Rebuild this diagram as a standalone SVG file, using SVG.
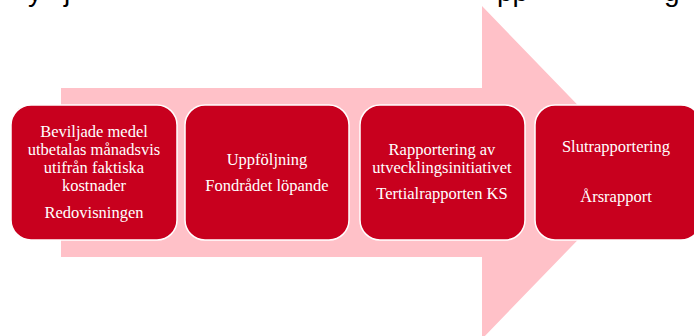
<svg xmlns="http://www.w3.org/2000/svg" width="694" height="336" viewBox="0 0 694 336">
<style>
.box{fill:#C8001E;stroke:#FFFFFF;stroke-width:1.5}
.t{font-family:"Liberation Serif","Times New Roman",serif;font-size:16.5px;fill:#FFFFFF;text-anchor:middle}
.top{font-family:"Liberation Sans",Arial,sans-serif;font-size:28px;fill:#000000}
</style>
<rect width="694" height="336" fill="#FFFFFF"/>
<g id="title-fragment">
<text class="top" x="28" y="1">y</text>
<text class="top" x="64" y="1">j</text>
<text class="top" x="497" y="1">pp</text>
<text class="top" x="664" y="1">g</text>
</g>
<g id="connectors">
<polygon points="61,88 482,88 482,6 643,172.5 482,339 482,257 61,257" fill="#FFC1C8"/>
</g>
<g id="node1">
<rect class="box" x="11" y="105" width="166" height="135" rx="20"/>
<text class="t" x="94" y="137">Beviljade medel</text>
<text class="t" x="94" y="155">utbetalas månadsvis</text>
<text class="t" x="94" y="173">utifrån faktiska</text>
<text class="t" x="94" y="191">kostnader</text>
<text class="t" x="94" y="218">Redovisningen</text>
</g>
<g id="node2">
<rect class="box" x="185" y="105" width="164" height="135" rx="20"/>
<text class="t" x="267" y="165">Uppföljning</text>
<text class="t" x="267" y="191">Fondrådet löpande</text>
</g>
<g id="node3">
<rect class="box" x="360" y="105" width="165" height="135" rx="20"/>
<text class="t" x="442" y="155">Rapportering av</text>
<text class="t" x="442" y="173">utvecklingsinitiativet</text>
<text class="t" x="442" y="199">Tertialrapporten KS</text>
</g>
<g id="node4">
<rect class="box" x="535" y="105" width="166" height="135" rx="20"/>
<text class="t" x="616" y="152">Slutrapportering</text>
<text class="t" x="616" y="202">Årsrapport</text>
</g>
</svg>
